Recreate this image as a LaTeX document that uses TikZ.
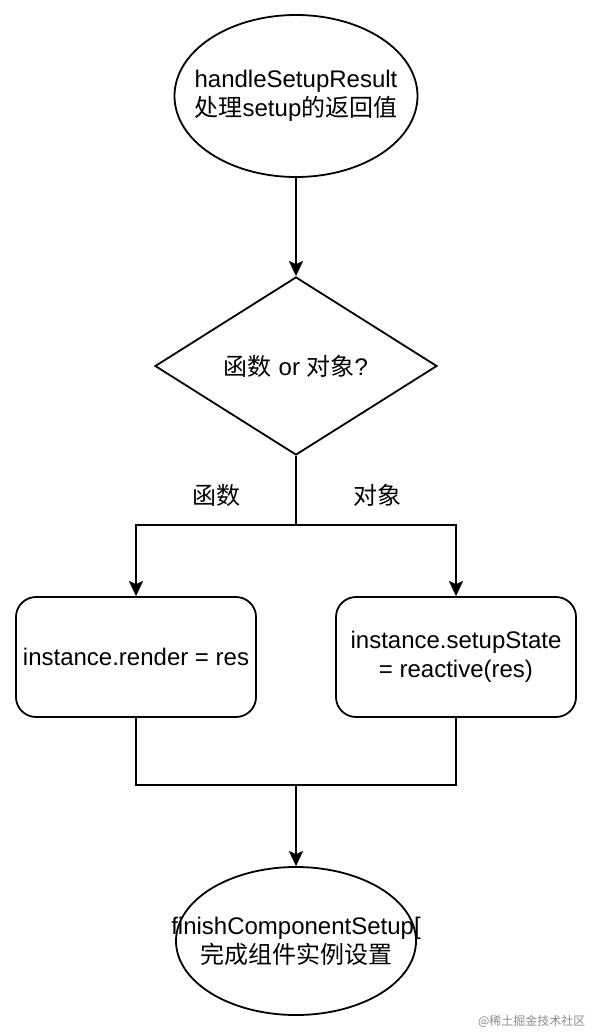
\documentclass[tikz,border=0pt]{standalone}
\usepackage{fontspec}
\setmainfont{Liberation Sans}
\newfontfamily\cjk{Noto Sans CJK SC}
\usetikzlibrary{shapes.geometric,arrows.meta}
\tikzset{
  base/.style={draw=black, line width=1.8pt, fill=white, align=center, inner sep=0pt,
    font=\fontsize{24}{29}\selectfont},
  oval/.style={base, ellipse},
  choice/.style={base, diamond},
  stepbox/.style={base, rectangle, rounded corners=20pt, minimum width=240pt, minimum height=120pt},
  conn/.style={line width=1.8pt, draw=black},
  arr/.style={conn, -{Stealth[length=15pt,width=14pt,inset=3pt]}},
  lbl/.style={font=\fontsize{24}{29}\selectfont, inner sep=0pt, align=center}
}
\begin{document}
\begin{tikzpicture}[x=1pt,y=-1pt]
\useasboundingbox (0,0) rectangle (594,1034);
\fill[white] (0,0) rectangle (594,1034);

\node[oval, minimum width=243pt, minimum height=162pt] (start) at (296,96) {};
\node[lbl] (starttext) at (start.center)
  {handleSetupResult\\{\cjk 处理}setup{\cjk 的返回值}};
\node[choice, minimum width=282pt, minimum height=178pt] (dec) at (296,366)
  {{\cjk 函数} or {\cjk 对象}?};
\node[stepbox] (b1) at (136,657) {instance.render = res};
\node[stepbox] (b2) at (456,657) {instance.setupState\\= reactive(res)};
\node[oval, minimum width=240pt, minimum height=148pt] (end) at (296,941) {};
\node[lbl] (endtext) at (end.center)
  {finishComponentSetup[\\{\cjk 完成组件实例设置}};

\node[lbl] (lf) at (216,495) {\cjk 函数};
\node[lbl] (lo) at (377,495) {\cjk 对象};

\coordinate (j1) at (296,525);
\coordinate (j2) at (296,785);

\draw[arr] (start.south) -- (dec.north);
\draw[conn] (dec.south) -- (j1);
\draw[arr] (j1) -| (b1.north);
\draw[arr] (j1) -| (b2.north);
\draw[conn] (b1.south) |- (j2);
\draw[conn] (b2.south) |- (j2);
\draw[arr] (j2) -- (end.north);

\node[font=\fontsize{12}{14}\selectfont\cjk, text=black!45, anchor=east] (wm) at (589,1021) {@稀土掘金技术社区};
\end{tikzpicture}
\end{document}
